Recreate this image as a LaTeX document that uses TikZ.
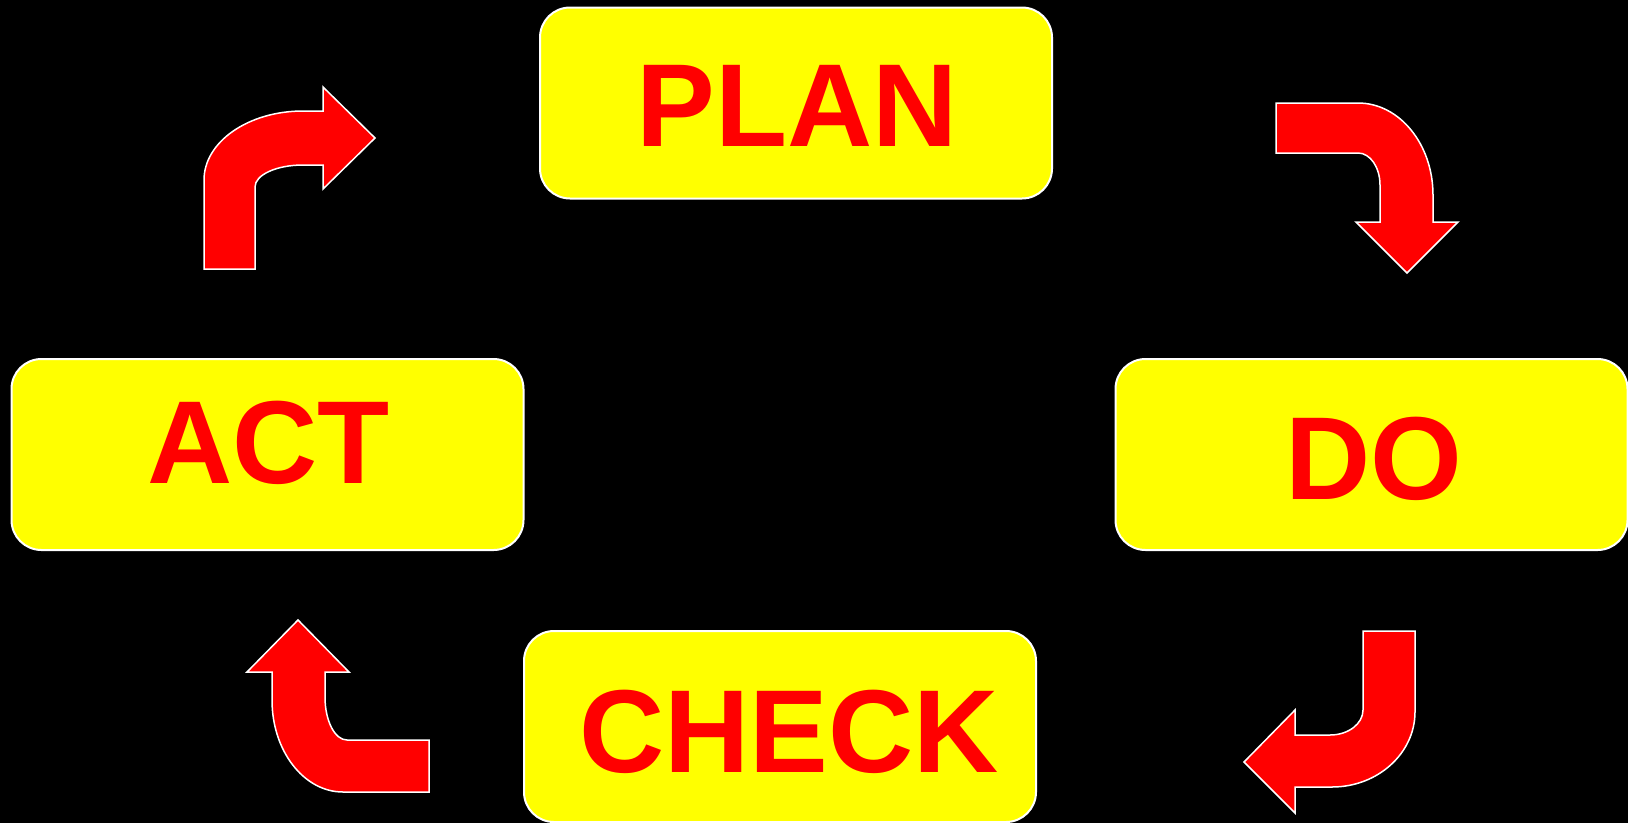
\documentclass[tikz,border=0pt]{standalone}
\usepackage{fontspec}
\setmainfont{Liberation Sans}
\definecolor{boxyellow}{RGB}{255,255,0}
\definecolor{pred}{RGB}{255,0,0}
\begin{document}
\begin{tikzpicture}[x=1pt,y=-1pt,
  box/.style={rectangle, rounded corners=30pt, fill=boxyellow, draw=white, line width=2pt,
    minimum width=512pt, minimum height=191pt, inner sep=0pt},
  lbl/.style={anchor=base, inner sep=0pt, text=pred, font=\fontsize{118}{120}\selectfont\bfseries},
  bentarrow/.style={fill=pred, draw=white, line width=1.5pt, line join=miter}]
\fill[black] (0,0) rectangle (1628,823);
\useasboundingbox (0,0) rectangle (1628,823);
% boxes
\node[box] (plan) at (796,103) {};
\node[box] (act) at (267.5,454.5) {};
\node[box] (do) at (1371.5,454.5) {};
\node[box] (check) at (780,726.5) {};
% labels
\node[lbl] (planT) at (797,146) {PLAN};
\node[lbl] (doT) at (1373.5,499) {DO};
\node[lbl] (actT) at (268.5,483) {ACT};
\node[lbl] (checkT) at (789,772) {CHECK};
% arrow ACT -> PLAN
\draw[bentarrow] (204,269) -- (204,180) .. controls (204,141.9) and (248.3,111) .. (303,111)
  -- (323,111) -- (323,87) -- (375,138) -- (323,189) -- (323,165) -- (303,165)
  .. controls (276.5,165) and (255,174.8) .. (255,187) -- (255,269) -- cycle;
% arrow PLAN -> DO
\draw[bentarrow] (1276,103) -- (1358,103) .. controls (1399.4,103) and (1433,144.2) .. (1433,195)
  -- (1433,222) -- (1458,222) -- (1407,273) -- (1356,222) -- (1380,222) -- (1380,185)
  .. controls (1380,167.3) and (1370.2,153) .. (1358,153) -- (1276,153) -- cycle;
% arrow DO -> CHECK
\draw[bentarrow] (1415,631) -- (1415,712) .. controls (1415,753) and (1378,787) .. (1332,787)
  -- (1295,787) -- (1295,813) -- (1244,762) -- (1295,710) -- (1295,735) -- (1330,735)
  .. controls (1348.2,735) and (1363,723.8) .. (1363,710) -- (1363,631) -- cycle;
% arrow CHECK -> ACT
\draw[bentarrow] (429,792) -- (343,792) .. controls (303.8,792) and (272,750.8) .. (272,700)
  -- (272,672) -- (247,672) -- (298,620) -- (349,672) -- (325,672) -- (325,697)
  .. controls (325,720.7) and (334.8,740) .. (347,740) -- (429,740) -- cycle;
\end{tikzpicture}
\end{document}
